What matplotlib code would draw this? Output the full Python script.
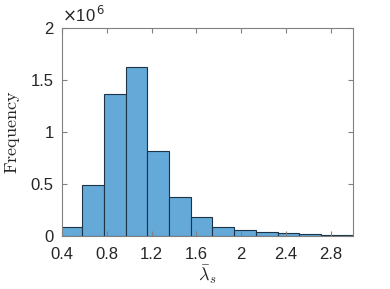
import matplotlib
matplotlib.use("Agg")
import matplotlib.pyplot as plt
import matplotlib.ticker as mticker
import numpy as np

# bin edges (MATLAB auto binning, width ~0.194)
bin_edges = [0.386, 0.580, 0.774, 0.968, 1.162, 1.356, 1.550, 1.744,
             1.938, 2.132, 2.326, 2.520, 2.714, 2.908, 3.102]
counts = [81000, 487000, 1362000, 1625000, 817000, 369000, 183000, 87000,
          52000, 32000, 23000, 21000, 12000, 8000]
x_ticks = [0.4, 0.8, 1.2, 1.6, 2.0, 2.4, 2.8]
y_ticks = [0, 0.5e6, 1.0e6, 1.5e6, 2.0e6]

plt.rcParams["font.family"] = ["Liberation Sans", "DejaVu Sans"]

fig = plt.figure(figsize=(3.9, 2.89), dpi=100)
ax = fig.add_axes([0.159, 0.184, 0.746, 0.720])

edges = np.array(bin_edges)
ax.bar(edges[:-1], counts, width=np.diff(edges), align="edge",
       color="#64a9d8", edgecolor="#1c3446", linewidth=0.8)

ax.set_xlim(0.4, 3.0)
ax.set_ylim(0, 2e6)
ax.set_xticks(x_ticks)
ax.set_yticks(y_ticks)
ax.xaxis.set_major_formatter(mticker.FuncFormatter(lambda v, p: f"{v:g}"))
ax.yaxis.set_major_formatter(mticker.FuncFormatter(lambda v, p: f"{v / 1e6:g}"))

for sp in ax.spines.values():
    sp.set_color("#808080")
    sp.set_linewidth(0.8)
ax.tick_params(direction="in", length=3.5, width=0.8, color="#808080",
               top=True, right=True, labelsize=12, labelcolor="#262626")
ax.tick_params(axis="x", pad=8)
ax.tick_params(axis="y", pad=6)

ax.set_ylabel(r"$\mathrm{Frequency}$", fontsize=13, math_fontfamily="cm",
              color="#262626", labelpad=6)
ax.set_xlabel(r"$\bar{\lambda}_s$", fontsize=13, math_fontfamily="cm",
              color="#262626", labelpad=1)
ax.text(0.0, 1.015, r"$\times$10$^{\,6}$", transform=ax.transAxes,
        fontsize=12, color="#262626", ha="left", va="bottom",
        math_fontfamily="dejavusans")

fig.savefig("out.png", dpi=100)
